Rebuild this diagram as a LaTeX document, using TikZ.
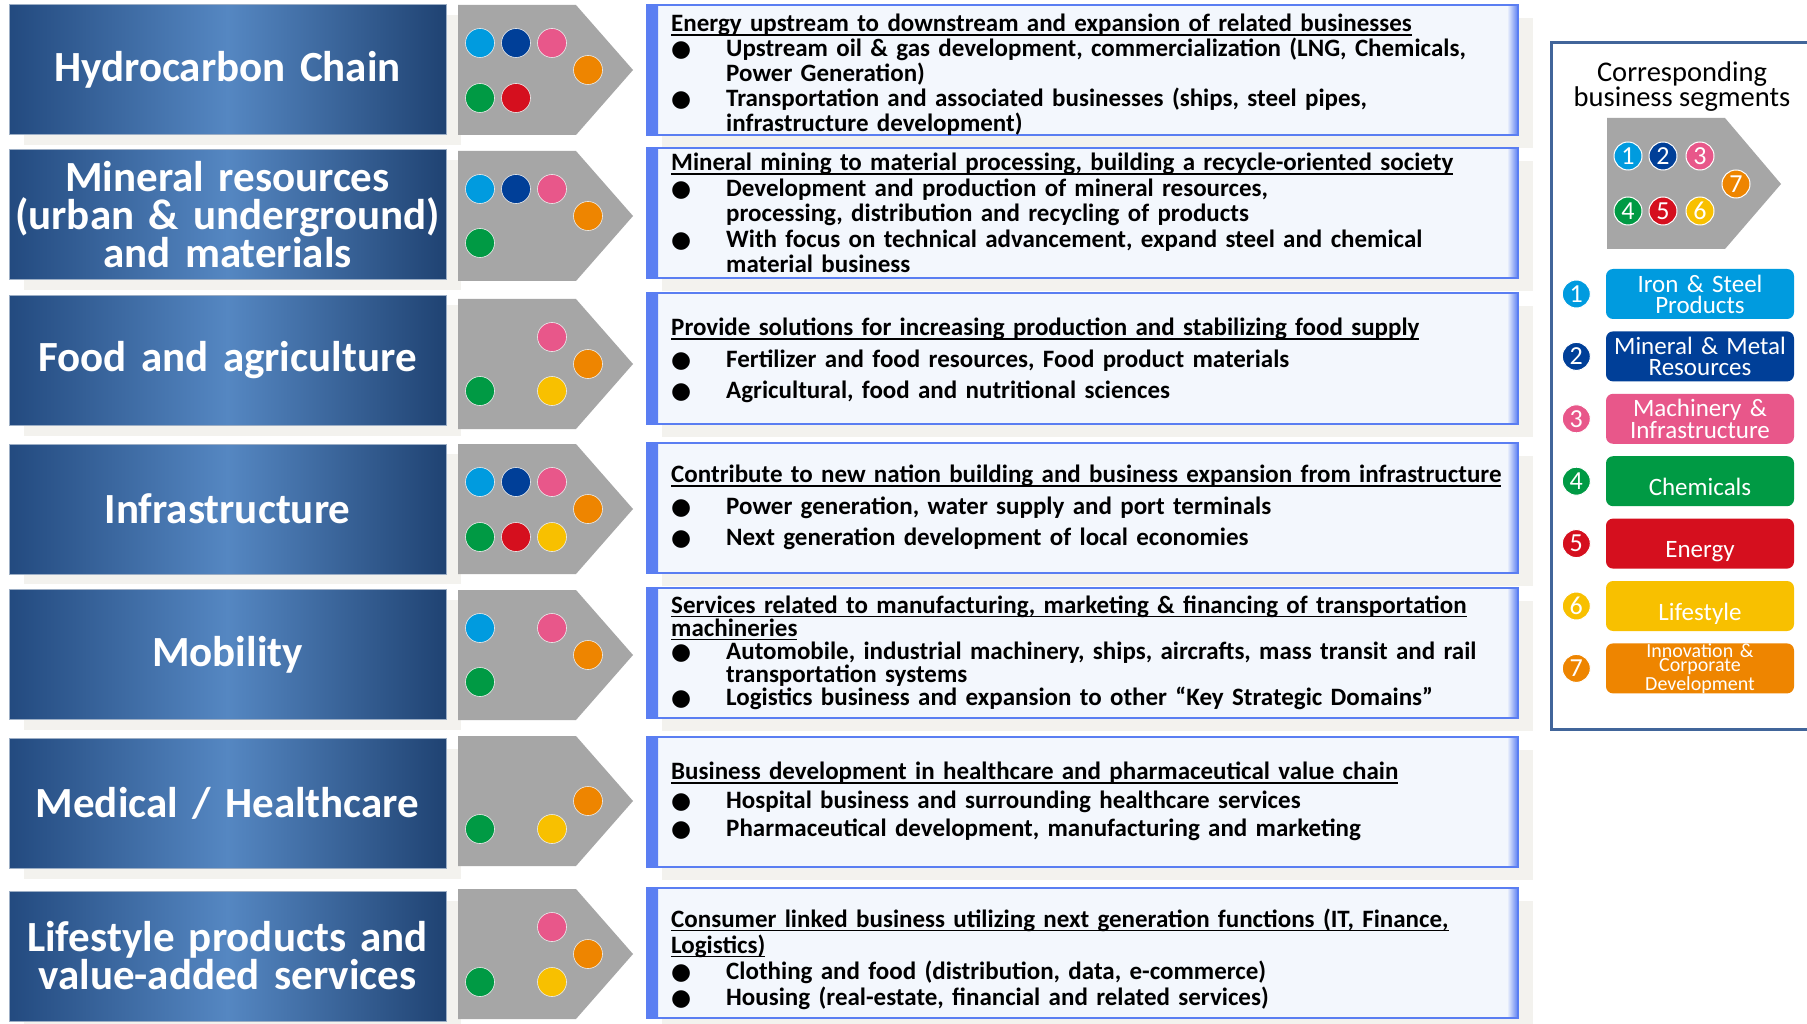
\documentclass[tikz,border=0pt]{standalone}
\usepackage{fontspec}
\usepackage{xcolor}
\usepackage{tikz}
\usetikzlibrary{shapes, shadows, positioning, calc}

\newfontfamily\labelfont{Carlito}
\newfontfamily\bodyfont{Carlito}
\newfontfamily\keyfont{Carlito}
\newfontfamily\markfont{DejaVu Sans}

\definecolor{bandedge}{HTML}{234A7F}
\definecolor{bandmid}{HTML}{5587C2}
\definecolor{chevgray}{HTML}{A6A6A6}
\definecolor{notefill}{HTML}{F3F7FD}
\definecolor{noteedge}{HTML}{5A7EF2}
\definecolor{shadowgray}{HTML}{F3F2EE}
\definecolor{keyframe}{HTML}{41659A}
\definecolor{segA}{HTML}{009BDF}
\definecolor{segB}{HTML}{003F98}
\definecolor{segC}{HTML}{E8578A}
\definecolor{segD}{HTML}{009A44}
\definecolor{segE}{HTML}{D50F1E}
\definecolor{segF}{HTML}{F8C000}
\definecolor{segG}{HTML}{EE8500}

\newcommand{\ulx}[1]{\setbox0\hbox{#1}\rlap{\rule[-4pt]{\wd0}{1.4pt}}\box0}
\newcommand{\noteitem}[1]{\par\hangindent=55pt\hangafter=1\noindent\makebox[55pt][l]{\markfont\fontsize{23}{23}\selectfont ●}#1\par}

\begin{document}
\begin{tikzpicture}[x=1pt, y=-1pt,
        band/.style={rectangle, draw=bandedge!45!white, line width=1pt,
            left color=bandedge, right color=bandedge!90!black, middle color=bandmid,
            minimum width=437pt, minimum height=130pt, text width=437pt, inner sep=0pt,
            align=center, text=white, font=\labelfont\bfseries\fontsize{43}{38}\selectfont,
            drop shadow={shadow xshift=15pt, shadow yshift=-10pt, fill=shadowgray, opacity=1}},
        chev/.style={fill=chevgray},
        segdot/.style={draw=white!80!chevgray, line width=0.6pt},
        note/.style={rectangle, draw=noteedge, line width=2pt, fill=notefill,
            minimum width=871pt, minimum height=130pt, inner sep=0pt,
            drop shadow={shadow xshift=15pt, shadow yshift=-13pt, fill=shadowgray, opacity=1},
            path picture={
                \shade[left color=noteedge, right color=notefill]
                    (path picture bounding box.north west) rectangle ([xshift=11pt]path picture bounding box.south west);
                \shade[left color=notefill, right color=noteedge]
                    ([xshift=-11pt]path picture bounding box.north east) rectangle (path picture bounding box.south east);
            }},
        notetext/.style={anchor=west, text width=860pt, align=left, inner sep=0pt,
            font=\bodyfont\bfseries\fontsize{25}{#1}\selectfont},
        keydot/.style={circle, draw=white, line width=1pt, minimum size=28pt, inner sep=0pt,
            text=white, font=\keyfont\fontsize{26}{26}\selectfont},
        segbox/.style={rectangle, rounded corners=7pt, minimum width=188pt, minimum height=50pt,
            text width=186pt, inner sep=0pt, align=center, text=white,
            font=\keyfont\fontsize{25}{21}\selectfont}
    ]
    \useasboundingbox (0,0) rectangle (1807,1024);
    \fill[white] (0,0) rectangle (1807,1024);

    % Domain bands
    \node[band] (band1) at (227.5,70) {Hydrocarbon Chain};
    \node[band] (band2) at (227.5,215) {Mineral resources\\(urban \& underground)\\and materials};
    \node[band] (band3) at (227.5,360.5) {Food and agriculture};
    \node[band] (band4) at (227.5,509) {Infrastructure};
    \node[band] (band5) at (227.5,654.5) {Mobility};
    \node[band] (band6) at (227.5,803.5) {Medical / Healthcare};
    \node[band] (band7) at (227.5,956) {Lifestyle products and\\value-added services};

    % Chevrons with segment dots
    \foreach \c in {70,216,364,509,655,801,954}
        \fill[chev] (458,\c-65) -- (576,\c-65) -- (633,\c) -- (576,\c+65) -- (458,\c+65) -- cycle;

    \foreach \x/\y/\col in {480/43/segA, 516/43/segB, 552/43/segC, 588/70/segG, 480/98/segD, 516/98/segE}
        \filldraw[segdot, fill=\col] (\x,\y) circle [radius=14.5pt];
    \foreach \x/\y/\col in {480/189/segA, 516/189/segB, 552/189/segC, 588/216/segG, 480/243/segD}
        \filldraw[segdot, fill=\col] (\x,\y) circle [radius=14.5pt];
    \foreach \x/\y/\col in {552/337/segC, 588/364/segG, 480/391/segD, 552/391/segF}
        \filldraw[segdot, fill=\col] (\x,\y) circle [radius=14.5pt];
    \foreach \x/\y/\col in {480/482/segA, 516/482/segB, 552/482/segC, 588/509/segG, 480/537/segD, 516/537/segE, 552/537/segF}
        \filldraw[segdot, fill=\col] (\x,\y) circle [radius=14.5pt];
    \foreach \x/\y/\col in {480/628/segA, 552/628/segC, 588/655/segG, 480/682/segD}
        \filldraw[segdot, fill=\col] (\x,\y) circle [radius=14.5pt];
    \foreach \x/\y/\col in {588/801/segG, 480/829/segD, 552/829/segF}
        \filldraw[segdot, fill=\col] (\x,\y) circle [radius=14.5pt];
    \foreach \x/\y/\col in {552/927/segC, 588/954/segG, 480/982/segD, 552/982/segF}
        \filldraw[segdot, fill=\col] (\x,\y) circle [radius=14.5pt];

    % Description boxes
    \node[note] (note1) at (1082.5,70) {};
    \node[note] (note2) at (1082.5,213) {};
    \node[note] (note3) at (1082.5,358.5) {};
    \node[note] (note4) at (1082.5,507.5) {};
    \node[note] (note5) at (1082.5,652.5) {};
    \node[note] (note6) at (1082.5,801.5) {};
    \node[note] (note7) at (1082.5,953) {};

    \node[notetext=25] (text1) at ([xshift=25pt, yshift=-5pt]note1.west) {\noindent\ulx{Energy upstream to downstream and expansion of related businesses}
        \noteitem{Upstream oil \& gas development, commercialization (LNG, Chemicals,\newline Power Generation)}
        \noteitem{Transportation and associated businesses (ships, steel pipes,\newline infrastructure development)}};
    \node[notetext=25.5] (text2) at ([xshift=25pt]note2.west) {\noindent\ulx{Mineral mining to material processing, building a recycle-oriented society}
        \noteitem{Development and production of mineral resources,\newline processing, distribution and recycling of products}
        \noteitem{With focus on technical advancement, expand steel and chemical\newline material business}};
    \node[notetext=31.5] (text3) at ([xshift=25pt, yshift=-2pt]note3.west) {\noindent\ulx{Provide solutions for increasing production and stabilizing food supply}
        \noteitem{Fertilizer and food resources, Food product materials}
        \noteitem{Agricultural, food and nutritional sciences}};
    \node[notetext=31.5] (text4) at ([xshift=25pt]note4.west) {\noindent\ulx{Contribute to new nation building and business expansion from infrastructure}
        \noteitem{Power generation, water supply and port terminals}
        \noteitem{Next generation development of local economies}};
    \node[notetext=23] (text5) at ([xshift=25pt]note5.west) {\noindent\ulx{Services related to manufacturing, marketing \& financing of transportation}\newline\ulx{machineries}
        \noteitem{Automobile, industrial machinery, ships, aircrafts, mass transit and rail\newline transportation systems}
        \noteitem{Logistics business and expansion to other “Key Strategic Domains”}};
    \node[notetext=28.5] (text6) at ([xshift=25pt]note6.west) {\noindent\ulx{Business development in healthcare and pharmaceutical value chain}
        \noteitem{Hospital business and surrounding healthcare services}
        \noteitem{Pharmaceutical development, manufacturing and marketing}};
    \node[notetext=26] (text7) at ([xshift=25pt, yshift=-6pt]note7.west) {\noindent\ulx{Consumer linked business utilizing next generation functions (IT, Finance,}\newline\ulx{Logistics)}
        \noteitem{Clothing and food (distribution, data, e-commerce)}
        \noteitem{Housing (real-estate, financial and related services)}};

    % Legend
    \draw[keyframe, line width=3pt] (1815,43) -- (1551,43) -- (1551,729) -- (1815,729);
    \node[font=\keyfont\fontsize{28.5}{25}\selectfont, align=center] (keyhead) at (1682,87) {Corresponding\\business segments};

    \fill[chev] (1607,118) -- (1725,118) -- (1781,184) -- (1725,249) -- (1607,249) -- cycle;
    \node[keydot, fill=segA] (mini1) at (1628,156) {1};
    \node[keydot, fill=segB] (mini2) at (1663,156) {2};
    \node[keydot, fill=segC] (mini3) at (1700,156) {3};
    \node[keydot, fill=segD] (mini4) at (1628,211) {4};
    \node[keydot, fill=segE] (mini5) at (1663,211) {5};
    \node[keydot, fill=segF] (mini6) at (1700,211) {6};
    \node[keydot, fill=segG] (mini7) at (1736,184) {7};

    \node[segbox, fill=segA] (seg1) at (1700,294) {Iron \& Steel\\Products};
    \node[segbox, fill=segB, below=12pt of seg1] (seg2) {Mineral \& Metal\\Resources};
    \node[segbox, fill=segC, below=12pt of seg2] (seg3) {Machinery \&\\Infrastructure};
    \node[segbox, fill=segD, below=12pt of seg3, text height=28pt, text depth=0pt] (seg4) {Chemicals};
    \node[segbox, fill=segE, below=12pt of seg4, text height=28pt, text depth=0pt] (seg5) {Energy};
    \node[segbox, fill=segF, below=12pt of seg5, text height=28pt, text depth=0pt] (seg6) {Lifestyle};
    \node[segbox, fill=segG, below=12pt of seg6, font=\keyfont\fontsize{20}{14.5}\selectfont] (seg7) {Innovation \&\\Corporate\\Development};

    \node[keydot, fill=segA, left=15pt of seg1] (key1) {1};
    \node[keydot, fill=segB, left=15pt of seg2] (key2) {2};
    \node[keydot, fill=segC, left=15pt of seg3] (key3) {3};
    \node[keydot, fill=segD, left=15pt of seg4] (key4) {4};
    \node[keydot, fill=segE, left=15pt of seg5] (key5) {5};
    \node[keydot, fill=segF, left=15pt of seg6] (key6) {6};
    \node[keydot, fill=segG, left=15pt of seg7] (key7) {7};
\end{tikzpicture}
\end{document}
